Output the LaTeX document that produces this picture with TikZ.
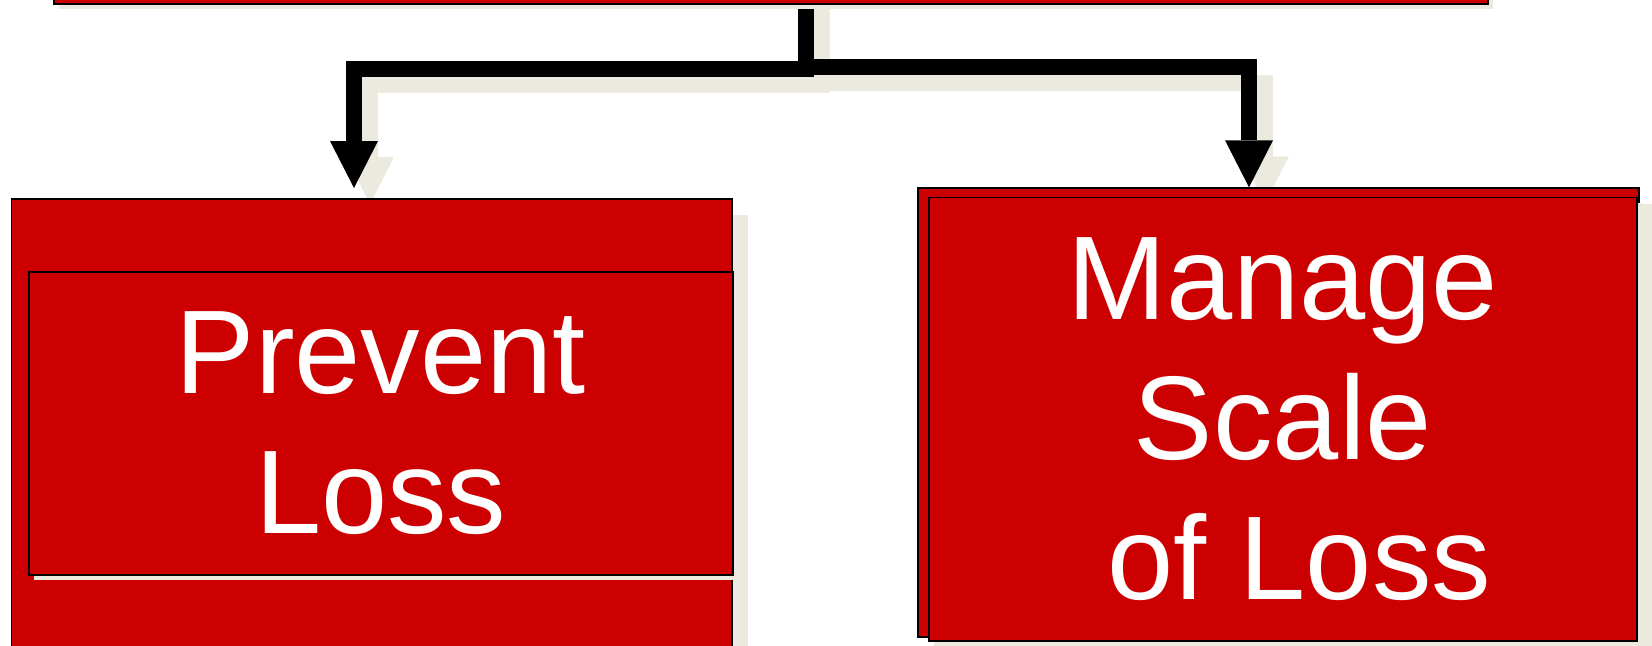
\documentclass[tikz,border=0pt]{standalone}
\usepackage{fontspec}
\setmainfont{Liberation Sans}
\usetikzlibrary{arrows.meta,shadows}
\definecolor{boxred}{RGB}{204,0,0}
\definecolor{beigeshadow}{RGB}{236,233,222}
\pgfdeclarelayer{background}
\pgfsetlayers{background,main}
\begin{document}
\begin{tikzpicture}[x=0.5pt,y=-0.5pt,
  redbox/.style={draw=black, line width=0.8pt, fill=boxred, inner sep=0pt, anchor=north west},
  bigshadow/.style={drop shadow={shadow xshift=8pt, shadow yshift=-8pt, fill=beigeshadow, opacity=1}},
  smallshadow/.style={drop shadow={shadow xshift=2.5pt, shadow yshift=-2.5pt, fill=beigeshadow, opacity=1}},
  conn/.style={line width=8pt, -{Triangle[length=23.5pt 0 0, width=24pt 0 0, line width=0pt 0 0]}},
  boxtext/.style={text=white, font=\fontsize{59.5pt}{70pt}\selectfont, align=center}
]
\useasboundingbox (0,0) rectangle (1652,645);
\clip (0,0) rectangle (1652,645);

\node[redbox, smallshadow, minimum width=717pt, minimum height=51.5pt] (top) at (53,-100) {};
\node[redbox, bigshadow, minimum width=360.15pt, minimum height=251pt] (lo) at (10.7,198) {};
\node[redbox, smallshadow, boxtext, minimum width=352pt, minimum height=151.5pt] (li) at (28,271) {Prevent\\Loss};
\node[redbox, bigshadow, minimum width=360.5pt, minimum height=224.35pt] (ro) at (917,187.3) {};
\node[redbox, smallshadow, boxtext, minimum width=354pt, minimum height=221.65pt] (ri) at (928,196.7) {Manage\\Scale\\\hspace*{0.278em}of Loss};

\coordinate (sx) at (806,0);
\coordinate (lturn) at (354,69);
\coordinate (rturn) at (1249,67);
\coordinate (ltip) at ([yshift=5pt]lturn |- lo.north);
\coordinate (rtip) at (rturn |- ro.north);

\begin{pgfonlayer}{background}
  \begin{scope}[transform canvas={xshift=8pt,yshift=-8pt}]
    \draw[conn, draw=beigeshadow] (top.center -| sx) |- (lturn) -- (ltip);
    \draw[conn, draw=beigeshadow] (top.center -| sx) |- (rturn) -- (rtip);
  \end{scope}
  \draw[conn, draw=black] (top.center -| sx) |- (lturn) -- (ltip);
  \draw[conn, draw=black] (top.center -| sx) |- (rturn) -- (rtip);
\end{pgfonlayer}
\end{tikzpicture}
\end{document}
